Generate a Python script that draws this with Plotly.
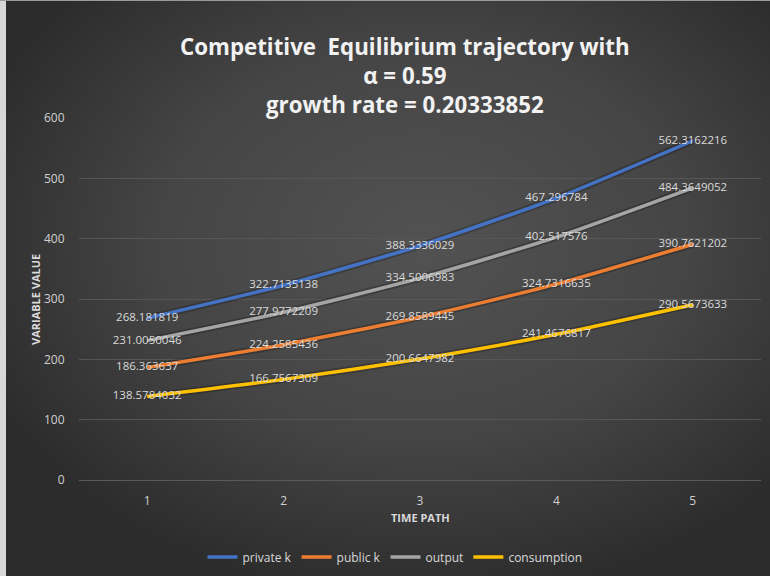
import base64
import plotly.graph_objects as go

# Time periods and trajectories of the competitive equilibrium
periods = [1, 2, 3, 4, 5]
private_k = [268.181819, 322.7135138, 388.3336029, 467.296784, 562.3162216]
public_k = [186.363637, 224.2585436, 269.8589445, 324.7316635, 390.7621202]
output = [231.0050046, 277.9772209, 334.5006983, 402.517576, 484.3649052]
consumption = [138.5784032, 166.7567309, 200.6647982, 241.4676817, 290.5673633]

series_names = ["private k", "public k", "output", "consumption"]
series_values = [private_k, public_k, output, consumption]
series_colors = ["#4472C4", "#ED7D31", "#A5A5A5", "#FFC000"]

y_ticks = [0, 100, 200, 300, 400, 500, 600]

W, H = 770, 576
ML, MR, MT, MB = 79, 9, 118, 96
PW, PH = W - ML - MR, H - MT - MB

# Dark radial background
svg = f"""<svg xmlns='http://www.w3.org/2000/svg' width='{W}' height='{H}' viewBox='0 0 {W} {H}' preserveAspectRatio='none'>
<defs><radialGradient id='g' cx='0.55' cy='0.42' r='0.62'>
<stop offset='0' stop-color='#525252'/><stop offset='0.55' stop-color='#454545'/>
<stop offset='1' stop-color='#2c2c2c'/></radialGradient></defs>
<rect width='{W}' height='{H}' fill='#2c2c2c'/>
<rect width='{W}' height='{H}' fill='url(#g)'/>
</svg>"""
bg_src = "data:image/svg+xml;base64," + base64.b64encode(svg.encode()).decode()

fig = go.Figure()

# Soft dark halo under each line
for vals in series_values:
    fig.add_trace(go.Scatter(
        x=periods, y=vals, mode="lines", showlegend=False,
        line=dict(color="rgba(0,0,0,0.22)", width=7, shape="spline", smoothing=0.6),
        hoverinfo="skip",
    ))

for name, vals, col in zip(series_names, series_values, series_colors):
    fig.add_trace(go.Scatter(
        x=periods, y=vals, name=name, mode="lines",
        line=dict(color=col, width=3.5, shape="spline", smoothing=0.6),
        hoverinfo="skip",
    ))

# Value labels drawn on top of all lines
for name, vals in zip(series_names, series_values):
    fig.add_trace(go.Scatter(
        x=periods, y=vals, mode="text", showlegend=False,
        text=[f"{v:.10g}" for v in vals], textposition="middle center",
        textfont=dict(family="Open Sans", size=11.5, color="#dadada"),
        hoverinfo="skip",
    ))

fig.update_layout(
    width=W, height=H,
    margin=dict(l=ML, r=MR, t=MT, b=MB, pad=0, autoexpand=False),
    paper_bgcolor="#3c3c3c", plot_bgcolor="rgba(0,0,0,0)",
    showlegend=True,
    legend=dict(orientation="h", x=(395 - ML) / PW, xanchor="center",
                y=-(557 - 480) / PH, yanchor="middle",
                font=dict(family="Open Sans", size=12, color="#d9d9d9"),
                bgcolor="rgba(0,0,0,0)", itemwidth=30, tracegroupgap=0),
    images=[dict(source=bg_src, xref="paper", yref="paper",
                 x=-ML / PW, y=1 + MT / PH, sizex=W / PW, sizey=H / PH,
                 xanchor="left", yanchor="top", sizing="stretch", layer="below")],
    shapes=[
        # light border strip along the left edge and a thin line along the top
        dict(type="rect", xref="paper", yref="paper", layer="above",
             x0=-ML / PW, x1=(6 - ML) / PW, y0=-MB / PH, y1=1 + MT / PH,
             fillcolor="#d8d8d8", line=dict(width=0)),
        dict(type="rect", xref="paper", yref="paper", layer="above",
             x0=-ML / PW, x1=1 + MR / PW, y0=1 + (MT - 1) / PH, y1=1 + MT / PH,
             fillcolor="#9a9a9a", line=dict(width=0)),
    ],
    xaxis=dict(range=[0.5, 5.5], tickvals=periods, ticktext=[str(p) for p in periods],
               showgrid=False, zeroline=False, showline=True, linecolor="#5a5a5a",
               linewidth=1, ticks="outside", ticklen=10, tickcolor="rgba(0,0,0,0)",
               tickfont=dict(family="Open Sans", size=12, color="#d0d0d0")),
    yaxis=dict(range=[0, 600], tickvals=y_ticks, showgrid=True, gridcolor="#565656",
               gridwidth=1, zeroline=False, showline=False,
               ticks="outside", ticklen=11, tickcolor="rgba(0,0,0,0)",
               tickfont=dict(family="Open Sans", size=12, color="#d0d0d0")),
    annotations=[
        dict(text="<b>Competitive  Equilibrium trajectory with<br>α = 0.59<br>growth rate = 0.20333852</b>",
             xref="paper", yref="paper", x=(405 - ML) / PW, y=1 + (MT - 75) / PH,
             xanchor="center", yanchor="middle", showarrow=False,
             font=dict(family="Open Sans", size=22.3, color="#f2f2f2"), align="center"),
        dict(text="<b>TIME PATH</b>", xref="paper", yref="paper",
             x=0.5, y=-(517 - 480) / PH, xanchor="center", yanchor="middle",
             showarrow=False, font=dict(family="Open Sans", size=11, color="#d9d9d9")),
        dict(text="<b>VARIABLE VALUE</b>", xref="paper", yref="paper",
             x=-(ML - 35) / PW, y=(480 - 300) / PH, xanchor="center", yanchor="middle",
             textangle=-90, showarrow=False,
             font=dict(family="Open Sans", size=11, color="#d9d9d9")),
    ],
)

fig.write_html("out.html")
